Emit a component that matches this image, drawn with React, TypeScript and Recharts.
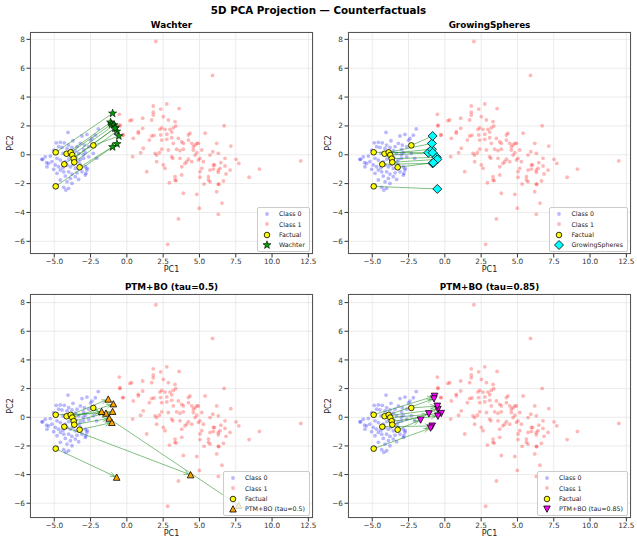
import React from 'react'
import { ScatterChart, Scatter, XAxis, YAxis, CartesianGrid, Label } from 'recharts'

type Pt = [number, number]

// PCA coordinates (PC1, PC2)
const class0: Pt[] = [
  [-4.05, 1.55], [-2.75, 1.41], [-3.09, 1.3], [-4.86, 0.83], [-4.58, 0.86], [-4.31, 0.83], [-3.71, 0.97],
  [-4.01, 0.67], [-3.2, 0.79], [-2.93, 0.67], [-4.7, 0.56], [-4.47, 0.51], [-4.12, 0.44], [-3.78, 0.51],
  [-3.43, 0.56], [-2.98, 0.37], [-2.63, 0.56], [-5.04, 0.32], [-3.55, 0.28], [-3.32, 0.09], [-2.86, 0.14],
  [-5.62, -0.14], [-5.85, -0.32], [-5.27, -0.09], [-4.81, -0.25], [-4.58, -0.37], [-4.24, -0.48], [-3.66, -0.48],
  [-3.2, -0.32], [-2.98, -0.25], [-2.63, -0.14], [-5.16, -0.48], [-4.93, -0.71], [-4.7, -0.83], [-4.12, -0.71],
  [-3.89, -0.83], [-3.55, -0.95], [-3.2, -0.71], [-2.86, -0.83], [-2.75, -1.06], [-4.58, -1.06], [-4.35, -1.18],
  [-4.01, -1.18], [-3.78, -1.34], [-3.43, -1.25], [-3.09, -1.18], [-4.81, -1.29], [-4.24, -1.48], [-3.89, -1.64],
  [-3.55, -1.52], [-3.32, -1.71], [-4.58, -1.75], [-4.12, -1.87], [-3.78, -1.99], [-4.81, -2.1], [-4.35, -2.26],
  [-4.01, -2.33], [-5.39, -0.6], [-5.04, -1.01], [-2.86, -1.41], [-5.5, -0.83], [-2.4, 1.13], [-2.17, 1.36],
  [-1.97, 1.79], [-2.5, 1.0], [-5.8, -0.32], [-5.53, -0.55], [-4.2, -2.45], [-2.08, -0.25], [-2.31, 0.1],
  [-2.73, -0.94], [-2.82, -1.29], [-3.9, 0.2], [-4.4, 0.1], [-3.5, -0.2], [-4.0, -0.3], [-3.3, -0.5],
  [-4.4, -0.9], [-3.7, -0.7], [-3.0, 0.0],
]

const class1: Pt[] = [
  [2.0, 7.85], [5.9, 5.5], [2.75, 3.52], [1.82, 3.38], [2.33, 3.17], [3.6, 3.2],
  [1.82, 2.95], [1.82, 2.75], [2.51, 2.64], [2.86, 2.41], [3.32, 2.29],
  [3.2, 1.87], [3.37, 1.99], [2.97, 1.76], [3.09, 1.57], [2.4, 1.87], [2.28, 1.76], [2.63, 1.76],
  [1.71, 2.41], [1.09, 2.53], [0.33, 2.41], [-0.47, 2.06], [0.79, 1.6], [1.09, 1.83], [0.79, 1.49],
  [1.71, 1.3], [1.87, 1.35], [2.33, 1.37], [2.75, 1.42], [2.75, 1.07], [2.4, 1.02], [1.55, 1.02],
  [0.44, 1.14], [-0.29, 1.37], [3.09, 1.18], [3.2, 0.79], [3.55, 1.14], [3.78, 0.9], [3.89, 0.79],
  [4.24, 1.37], [4.35, 1.49], [4.24, 1.02], [4.47, 0.79], [4.7, 0.67], [4.82, 0.79], [4.93, 0.79],
  [5.39, 1.49], [4.58, 0.56], [4.58, 0.33], [5.16, 0.33], [4.82, 0.14], [3.43, 0.38], [3.66, 0.28],
  [3.89, 0.38], [2.86, 0.33], [2.4, 0.38], [1.94, 0.1], [2.05, -0.02], [2.24, 0.14], [1.13, 0.45],
  [0.95, 0.14], [0.4, -0.13], [3.09, -0.13], [3.16, -0.25], [3.66, -0.25], [4.12, -0.48], [4.24, -0.31],
  [4.0, -0.6], [4.47, -0.48], [4.7, -0.02], [4.93, -0.36], [5.04, -0.25], [5.27, -0.48], [5.73, -0.02],
  [6.19, 0.79], [6.3, 0.1], [5.96, -0.71], [6.3, -1.06], [6.42, -0.94], [5.73, -1.06], [5.16, -0.94],
  [5.04, -1.17], [5.62, -1.52], [3.32, -1.52], [3.78, -0.83], [2.63, -0.94], [2.51, -0.71], [2.05, -0.48],
  [1.37, -1.17], [3.32, -1.75], [3.39, -1.8], [2.93, -1.94], [3.78, -1.4], [5.04, -1.56], [5.62, -1.75],
  [5.73, -1.87], [5.32, -2.03], [6.3, -2.03], [3.89, -2.67], [4.82, -2.74], [6.19, -2.56], [4.99, -3.71],
  [6.3, -4.13], [3.55, -4.45], [2.81, -6.21], [6.55, -3.35],
  [6.7, 2.01], [7.16, 0.6], [5.92, 0.21], [6.76, -0.25], [7.52, -0.32], [7.71, -0.6], [6.03, -0.71],
  [6.47, -0.55], [6.76, -0.78], [5.96, -0.99], [6.3, -1.22], [7.11, -1.06], [6.83, -1.33], [9.13, -0.99],
  [8.42, -1.56], [6.65, -1.82], [6.33, -2.05], [11.98, -0.43],
  [-0.52, 2.8], [-0.48, 2.0], [-0.25, 1.37], [0.21, 2.36],
]

const factual: Pt[] = [
  [-4.9, 0.17], [-4.15, 0.07], [-3.87, 0.17], [-3.76, -0.02], [-3.66, -0.27],
  [-3.62, -0.52], [-4.31, -0.66], [-3.25, -0.87], [-2.31, 0.65], [-4.9, -2.19],
]

// counterfactuals, same order as factual
const wachter: Pt[] = [
  [-0.98, 2.87], [-1.12, 2.25], [-1.05, 2.12], [-0.88, 2.06], [-0.78, 1.9],
  [-0.7, 1.62], [-0.82, 1.83], [-0.68, 0.75], [-0.55, 1.3], [-0.98, 0.54],
]
const growingSpheres: Pt[] = [
  [-1.14, 0.14], [-0.89, 0.38], [-0.89, 0.79], [-0.84, 0.14], [-0.56, -0.18],
  [-0.52, -0.32], [-0.84, -0.6], [-0.8, -0.55], [-0.84, 1.3], [-0.52, -2.37],
]
const ptmTau050: Pt[] = [
  [-1.44, 0.28], [-1.74, 0.4], [-1.28, 1.26], [-0.93, 0.93], [-0.98, 0.4],
  [-1.21, -0.07], [4.39, -4.02], [-1.03, -0.37], [7.7, -6.15], [-0.7, -4.19],
]
const ptmTau085: Pt[] = [
  [-0.71, 1.47], [-0.48, 0.55], [-0.75, 1.29], [-0.25, 0.27], [-0.48, 0.08],
  [-1.1, 0.25], [-0.87, -0.61], [-1.67, -0.19], [-0.52, 0.78], [-0.98, -0.75],
]

const xTicks = [-5, -2.5, 0, 2.5, 5, 7.5, 10, 12.5]
const yTicks = [-6, -4, -2, 0, 2, 4, 6, 8]

const FONT = '"DejaVu Sans", Verdana, sans-serif'
const LINE_GREEN = '#008000'

const toXY = (pts: Pt[]) => pts.map(([x, y]) => ({ x, y }))
const pairsOf = (cf: Pt[]) =>
  factual.flatMap((f, i) => [{ x: f[0], y: f[1] }, { x: cf[i][0], y: cf[i][1] }])

const minus = (s: string) => s.replace('-', '\u2212')

type MarkerFn = (cx: number, cy: number) => React.ReactElement

const dotMarker = (color: string): MarkerFn => (cx, cy) =>
  <circle cx={cx} cy={cy} r={1.9} fill={color} fillOpacity={0.28} />

const factualMarker: MarkerFn = (cx, cy) =>
  <circle cx={cx} cy={cy} r={2.8} fill="#ffff00" stroke="#000" strokeWidth={0.8} />

const starMarker: MarkerFn = (cx, cy) => {
  const pts: string[] = []
  for (let k = 0; k < 10; k++) {
    const a = ((-90 + k * 36) * Math.PI) / 180
    const r = k % 2 === 0 ? 4.2 : 1.7
    pts.push(`${cx + r * Math.cos(a)},${cy + r * Math.sin(a)}`)
  }
  return <polygon points={pts.join(' ')} fill="#00a000" stroke="#000" strokeWidth={0.6} />
}

const diamondMarker: MarkerFn = (cx, cy) =>
  <polygon points={`${cx},${cy - 4.5} ${cx + 4.5},${cy} ${cx},${cy + 4.5} ${cx - 4.5},${cy}`}
    fill="#00ffff" stroke="#000" strokeWidth={0.8} />

const triUpMarker: MarkerFn = (cx, cy) =>
  <polygon points={`${cx},${cy - 3.3} ${cx + 3.3},${cy + 3} ${cx - 3.3},${cy + 3}`}
    fill="#ffa500" stroke="#000" strokeWidth={0.8} />

const triDownMarker: MarkerFn = (cx, cy) =>
  <polygon points={`${cx},${cy + 3.3} ${cx + 3.3},${cy - 3} ${cx - 3.3},${cy - 3}`}
    fill="#ff00ff" stroke="#000" strokeWidth={0.8} />

// draws factual -> counterfactual segments from consecutive point pairs
const pairLines = (arrows: boolean) => (props: any) => {
  const pts = props.points ?? []
  const out: React.ReactElement[] = []
  for (let i = 0; i + 1 < pts.length; i += 2) {
    const a = pts[i]
    const b = pts[i + 1]
    if (a?.x == null || b?.x == null) continue
    const dx = b.x - a.x
    const dy = b.y - a.y
    const len = Math.hypot(dx, dy) || 1
    const ux = dx / len
    const uy = dy / len
    if (!arrows) {
      out.push(<line key={`l${i}`} x1={a.x} y1={a.y} x2={b.x} y2={b.y} />)
      continue
    }
    const tx = b.x - ux * 2
    const ty = b.y - uy * 2
    const bx = tx - ux * 5
    const by = ty - uy * 5
    out.push(<line key={`l${i}`} x1={a.x} y1={a.y} x2={tx} y2={ty} />)
    out.push(
      <polyline key={`a${i}`} fill="none"
        points={`${bx - uy * 2.2},${by + ux * 2.2} ${tx},${ty} ${bx + uy * 2.2},${by - ux * 2.2}`} />
    )
  }
  return <g stroke={LINE_GREEN} strokeOpacity={0.55} strokeWidth={0.9} fill="none">{out}</g>
}

interface Box {
  left: number; top: number; width: number; height: number
  plotLeft: number; plotTop: number; plotRight: number; plotBottom: number
  yDomain: [number, number]
}

interface PanelProps {
  title: string
  cf: Pt[]
  cfLabel: string
  marker: MarkerFn
  arrows: boolean
  box: Box
}

const tickStyle = { fontSize: 7.3, fill: '#333', fontFamily: FONT }

function Panel({ title, cf, cfLabel, marker, arrows, box }: PanelProps) {
  const { left, top, width, height, plotLeft, plotTop, plotRight, plotBottom, yDomain } = box
  const legendRows: [string, MarkerFn][] = [
    ['Class 0', dotMarker('#0000ff')],
    ['Class 1', dotMarker('#ff0000')],
    ['Factual', factualMarker],
    [cfLabel, marker],
  ]
  return (
    <>
      <div style={{
        position: 'absolute', left: plotLeft, width: plotRight - plotLeft, top: plotTop - 14,
        lineHeight: '14px', textAlign: 'center', fontWeight: 'bold', fontSize: 8.8, color: '#000',
      }}>{title}</div>
      <div style={{ position: 'absolute', left, top }}>
        <ScatterChart width={width} height={height}
          margin={{ top: plotTop - top, right: left + width - plotRight, bottom: 0, left: 0 }}>
          <CartesianGrid stroke="#e6e6e6" strokeWidth={0.8} />
          <XAxis type="number" dataKey="x" domain={[-6.67, 12.82]} ticks={xTicks} allowDataOverflow
            height={top + height - plotBottom} axisLine={false} tickSize={3.5} tickMargin={1}
            tickLine={{ stroke: '#333' }} tick={tickStyle} tickFormatter={(v: number) => minus(v.toFixed(1))}>
            <Label content={(p: any) => {
              const vb = p.viewBox
              return <text x={vb.x + vb.width / 2} y={vb.y + 15.5} textAnchor="middle" dominantBaseline="central"
                fontSize={8} fontFamily={FONT} fill="#222">PC1</text>
            }} />
          </XAxis>
          <YAxis type="number" dataKey="y" domain={yDomain} ticks={yTicks} allowDataOverflow
            width={plotLeft - left} axisLine={false} tickSize={3.5} tickMargin={1.5}
            tickLine={{ stroke: '#333' }} tick={tickStyle} tickFormatter={(v: number) => minus(String(v))}>
            <Label content={(p: any) => {
              const vb = p.viewBox
              const cx = vb.x + 10
              const cy = vb.y + vb.height / 2
              return <text x={cx} y={cy} transform={`rotate(-90, ${cx}, ${cy})`} textAnchor="middle"
                dominantBaseline="central" fontSize={8} fontFamily={FONT} fill="#222">PC2</text>
            }} />
          </YAxis>
          <Scatter data={toXY(class0)} isAnimationActive={false}
            shape={(p: any) => dotMarker('#0000ff')(p.cx, p.cy)} />
          <Scatter data={toXY(class1)} isAnimationActive={false}
            shape={(p: any) => dotMarker('#ff0000')(p.cx, p.cy)} />
          <Scatter data={pairsOf(cf)} isAnimationActive={false} line={pairLines(arrows)} lineType="joint"
            shape={() => <g />} />
          <Scatter data={toXY(factual)} isAnimationActive={false}
            shape={(p: any) => factualMarker(p.cx, p.cy)} />
          <Scatter data={toXY(cf)} isAnimationActive={false}
            shape={(p: any) => marker(p.cx, p.cy)} />
        </ScatterChart>
      </div>
      <div style={{
        position: 'absolute', left: plotLeft, top: plotTop, width: plotRight - plotLeft,
        height: plotBottom - plotTop, boxSizing: 'border-box', border: '1px solid #555', pointerEvents: 'none',
      }} />
      <div style={{
        position: 'absolute', right: 637 - (plotRight - 3), bottom: 544 - (plotBottom - 2),
        background: 'rgba(255,255,255,0.8)', border: '1px solid #ccc', borderRadius: 2,
        padding: '1px 4px 1px 3px', fontSize: 6.3, color: '#222', fontFamily: FONT,
      }}>
        {legendRows.map(([name, m]) => (
          <div key={name} style={{ display: 'flex', alignItems: 'center', height: 10.3 }}>
            <svg width={12} height={10} style={{ marginRight: 6, overflow: 'visible' }}>{m(6, 5)}</svg>
            <span>{name}</span>
          </div>
        ))}
      </div>
    </>
  )
}

const topRow = { top: 0, height: 280, plotTop: 32, plotBottom: 254, yDomain: [-6.88, 8.51] as [number, number] }
const bottomRow = { top: 262, height: 282, plotTop: 294, plotBottom: 518, yDomain: [-7.03, 8.6] as [number, number] }
const leftCol = { left: 0, width: 318, plotLeft: 30, plotRight: 313 }
const rightCol = { left: 318, width: 319, plotLeft: 348, plotRight: 631 }

export default function App() {
  return (
    <div style={{ position: 'absolute', left: 0, top: 0, width: 637, height: 544, background: '#fff', fontFamily: FONT }}>
      <div style={{
        position: 'absolute', left: 0, width: 637, top: 3, lineHeight: '14px', textAlign: 'center',
        fontWeight: 'bold', fontSize: 10.3, color: '#000',
      }}>5D PCA Projection — Counterfactuals</div>
      <Panel title="Wachter" cf={wachter} cfLabel="Wachter" marker={starMarker} arrows={false}
        box={{ ...leftCol, ...topRow }} />
      <Panel title="GrowingSpheres" cf={growingSpheres} cfLabel="GrowingSpheres" marker={diamondMarker} arrows={false}
        box={{ ...rightCol, ...topRow }} />
      <Panel title="PTM+BO (tau=0.5)" cf={ptmTau050} cfLabel="PTM+BO (tau=0.5)" marker={triUpMarker} arrows
        box={{ ...leftCol, ...bottomRow }} />
      <Panel title="PTM+BO (tau=0.85)" cf={ptmTau085} cfLabel="PTM+BO (tau=0.85)" marker={triDownMarker} arrows
        box={{ ...rightCol, ...bottomRow }} />
    </div>
  )
}
